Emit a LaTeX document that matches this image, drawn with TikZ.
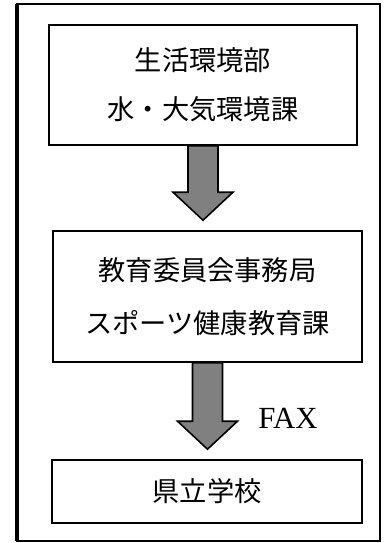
\documentclass[tikz,border=0pt]{standalone}
\usepackage{fontspec}
\usepackage{tikz}
\usetikzlibrary{calc}
\newfontfamily\jp{Noto Sans CJK JP}
\newfontfamily\lat{Liberation Serif}
\definecolor{mgray}{rgb}{0.5, 0.5, 0.5}
\tikzset{dept/.style = {draw, line width = 0.9pt, align = center, inner sep = 0,
                        font = \jp\fontsize{15.5}{28}\selectfont}}
\tikzset{flow/.style = {fill = mgray, draw, line width = 0.9pt, line join = miter}}
\newcommand{\flowto}[2]{%
  \draw [flow] let \p1 = (#1.south), \p2 = (#2.north) in
    (\x1 - 0.3cm, \y1) -- (\x1 - 0.3cm, \y2 + 0.76cm) -- (\x1 - 0.6cm, \y2 + 0.76cm)
    -- (\x1, \y2 + 0.2cm) -- (\x1 + 0.6cm, \y2 + 0.76cm) -- (\x1 + 0.3cm, \y2 + 0.76cm)
    -- (\x1 + 0.3cm, \y1) -- cycle;}

\begin{document}
\begin{tikzpicture}[x = 0.02cm, y = -0.02cm]
    \useasboundingbox (0, 0) rectangle (386, 543);
    \draw [line width = 0.8pt] (17, 4) rectangle (380, 541);
    \draw [line width = 2pt] (17, 4) -- (17, 541);

    \node [dept, minimum width = 6.16cm, minimum height = 2.4cm] (env) at (203, 85)
      {生活環境部\\水・大気環境課};
    \node [dept, minimum width = 6.18cm, minimum height = 2.62cm,
           font = \jp\fontsize{15.5}{30}\selectfont] (edu) at (207.5, 296.5)
      {教育委員会事務局\\スポーツ健康教育課};
    \node [dept, minimum width = 6.2cm, minimum height = 1.26cm] (school) at (207, 491.5)
      {県立学校};

    \flowto{env}{edu}
    \flowto{edu}{school}
    \node [font = \lat\fontsize{17.5}{17.5}\selectfont] (fax) at (288, 418) {FAX};
  \end{tikzpicture}
\end{document}
